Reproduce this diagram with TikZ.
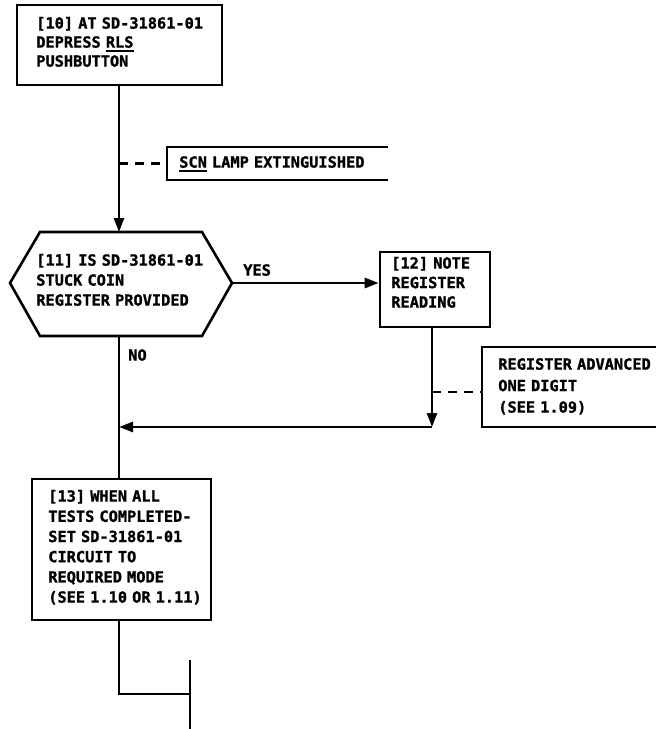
\documentclass[tikz,border=0pt]{standalone}
\usepackage{fontspec}
\newfontfamily\lettering{DejaVu Sans Mono}[BoldFeatures={FakeBold=1.3}]
\usetikzlibrary{arrows.meta}
\newcommand\myul[1]{\setbox0\hbox{#1}\rlap{\rule[-4pt]{\wd0}{1.8pt}}\box0\relax}
\begin{document}
\begin{tikzpicture}[x=1pt,y=-1pt,line width=2.6pt,
  txt/.style={anchor=base west,inner sep=0pt,text width=240pt,align=left,
    font=\lettering\bfseries\fontsize{15.3}{#1}\selectfont},
  txt/.default=19.6,
  boxr/.style={draw,inner sep=0pt},
  arr/.style={-{Triangle[length=14pt,width=10pt]}},
  ann/.style={dash pattern=on 9pt off 7pt}]
\useasboundingbox (0,0) rectangle (656,729);

% boxes
\node[boxr,minimum width=205pt,minimum height=80pt] (b10) at (119.5,45) {};
\node[boxr,minimum width=110pt,minimum height=75pt] (b12) at (435,289.5) {};
\node[boxr,minimum width=179pt,minimum height=141pt] (b13) at (121.5,549.5) {};

% hexagon
\coordinate (hexW) at (10,283);
\coordinate (hexE) at (232,283);
\coordinate (hexN) at (119,232);
\coordinate (hexS) at (119,336);
\draw[line join=miter] (hexW) -- (40,232) -- (202,232) -- (hexE) -- (202,336) -- (40,336) -- cycle;

% texts
\node[txt=19] (t10) at (35,28.6) {[10] AT SD-31861-01\\DEPRESS \myul{RLS}\\PUSHBUTTON};
\node[txt=20] (t11) at (35,265.6) {[11] IS SD-31861-01\\STUCK COIN\\REGISTER PROVIDED};
\node[txt=19.5] (t12) at (390,268.6) {[12] NOTE\\REGISTER\\READING};
\node[txt=20.2] (t13) at (47,501.6) {[13] WHEN ALL\\TESTS COMPLETED-\\SET SD-31861-01\\CIRCUIT TO\\REQUIRED MODE\\(SEE 1.10 OR 1.11)};
\node[txt=21.5] (treg) at (497,369.6) {REGISTER ADVANCED\\ONE DIGIT\\(SEE 1.09)};
\node[txt] (tscn) at (178,167.6) {\myul{SCN} LAMP EXTINGUISHED};
\node[txt] (yes) at (242,275.6) {YES};
\node[txt] (no) at (127,360.6) {NO};

% annotation brackets
\coordinate (scn) at (167,163.5);
\draw (388,147) -- (167,147) -- (167,180) -- (388,180);
\coordinate (reg) at (482,392);
\draw (660,347) -- (482,347) -- (482,427) -- (660,427);

% connectors
\draw[arr] (b10.south -| hexN) -- (hexN);
\coordinate (d1) at (119,163.5);
\draw[ann,line width=2.2pt] (d1) -- (scn);
\draw[arr] (hexE) -- (hexE -| b12.west);
\coordinate (j2) at (432,427);
\coordinate (j1) at (119,427);
\draw[arr] (b12.south -| j2) -- (j2);
\coordinate (d2) at (432,392);
\draw[ann,line width=2.2pt] (d2) -- (reg);
\draw[arr] (j2) -- (j1);
\draw (hexS) -- (hexS |- b13.north);
\coordinate (j3) at (190,694);
\draw (b13.south -| hexS) -- (hexS |- j3) -- (j3);
\coordinate (e1) at (190,660);
\coordinate (e2) at (190,729);
\draw (e1) -- (e2);
\end{tikzpicture}
\end{document}
